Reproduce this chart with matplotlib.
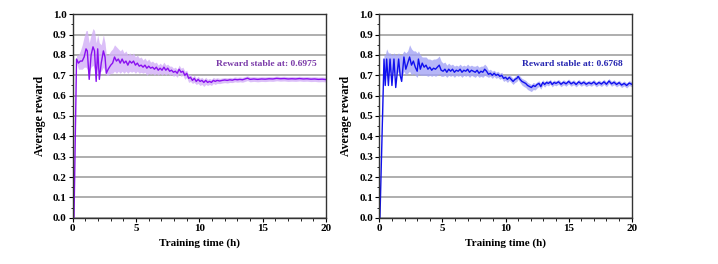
import numpy as np
import matplotlib.pyplot as plt
from matplotlib.ticker import MultipleLocator

plt.rcParams['font.family'] = ['Liberation Serif', 'DejaVu Serif']
plt.rcParams['font.weight'] = 'bold'

# ---- left run (purple) ----
t_a = [0.10, 0.30, 0.45, 0.60, 0.75, 0.90, 1.05, 1.15, 1.30, 1.45, 1.60, 1.72, 1.85, 1.97, 2.10,
       2.25, 2.42, 2.55, 2.65, 2.80, 3.00, 3.15, 3.30, 3.45, 3.60, 3.75, 3.90, 4.05, 4.20, 4.35,
       4.50, 4.65, 4.80, 4.95, 5.10, 5.25, 5.40, 5.55, 5.70, 5.85, 6.00, 6.15, 6.30, 6.45, 6.60,
       6.75, 6.90, 7.05, 7.20, 7.35, 7.50, 7.65, 7.80, 7.95, 8.10, 8.25, 8.40, 8.55, 8.70, 8.85,
       9.00, 9.15, 9.30, 9.45, 9.60, 9.75, 9.90, 10.05, 10.20, 10.35, 10.50, 10.65, 10.80, 10.95,
       11.10, 11.25, 11.40, 11.60, 11.80, 12.00, 12.20, 12.40, 12.60, 12.80, 13.00, 13.20, 13.40,
       13.60, 13.80, 14.00, 14.30, 14.60, 14.90, 15.20, 15.50, 15.80, 16.10, 16.40, 16.70, 17.00,
       17.30, 17.60, 17.90, 18.20, 18.50, 18.80, 19.10, 19.40, 19.70, 20.00]
r_a = [0.00, 0.78, 0.76, 0.77, 0.77, 0.79, 0.83, 0.82, 0.68, 0.80, 0.84, 0.82, 0.67, 0.83, 0.68,
       0.76, 0.82, 0.79, 0.71, 0.73, 0.75, 0.76, 0.79, 0.77, 0.78, 0.76, 0.78, 0.76, 0.77, 0.75,
       0.77, 0.76, 0.77, 0.75, 0.76, 0.745, 0.75, 0.74, 0.75, 0.735, 0.745, 0.735, 0.74, 0.73, 0.74,
       0.725, 0.735, 0.725, 0.74, 0.725, 0.735, 0.72, 0.725, 0.715, 0.72, 0.71, 0.73, 0.715, 0.72, 0.70,
       0.71, 0.685, 0.69, 0.675, 0.685, 0.67, 0.68, 0.67, 0.675, 0.665, 0.675, 0.665, 0.67, 0.665,
       0.675, 0.67, 0.675, 0.672, 0.675, 0.677, 0.675, 0.678, 0.676, 0.68, 0.678, 0.68, 0.678,
       0.682, 0.686, 0.68, 0.682, 0.68, 0.682, 0.681, 0.683, 0.682, 0.685, 0.683, 0.684, 0.682,
       0.683, 0.682, 0.684, 0.682, 0.683, 0.681, 0.682, 0.680, 0.681, 0.679]
hi_a = [0.00, 0.80, 0.80, 0.82, 0.85, 0.89, 0.92, 0.92, 0.86, 0.90, 0.93, 0.92, 0.86, 0.90, 0.86,
        0.85, 0.90, 0.86, 0.80, 0.80, 0.82, 0.83, 0.85, 0.84, 0.83, 0.82, 0.83, 0.81, 0.82, 0.80,
        0.81, 0.80, 0.81, 0.79, 0.80, 0.785, 0.79, 0.775, 0.785, 0.77, 0.78, 0.765, 0.77, 0.76, 0.765,
        0.75, 0.76, 0.75, 0.765, 0.75, 0.755, 0.745, 0.745, 0.735, 0.74, 0.73, 0.75, 0.735, 0.74, 0.72,
        0.725, 0.70, 0.705, 0.69, 0.70, 0.685, 0.695, 0.685, 0.69, 0.68, 0.69, 0.68, 0.685, 0.68,
        0.69, 0.685, 0.688, 0.685, 0.687, 0.689, 0.687, 0.690, 0.688, 0.692, 0.690, 0.692, 0.690,
        0.694, 0.697, 0.692, 0.693, 0.691, 0.693, 0.692, 0.694, 0.693, 0.696, 0.694, 0.695, 0.693,
        0.694, 0.693, 0.695, 0.693, 0.694, 0.692, 0.693, 0.691, 0.692, 0.690]
lo_a = [0.00, 0.76, 0.73, 0.73, 0.73, 0.74, 0.74, 0.73, 0.72, 0.74, 0.75, 0.73, 0.72, 0.74, 0.72,
        0.72, 0.74, 0.72, 0.70, 0.70, 0.71, 0.71, 0.72, 0.71, 0.72, 0.71, 0.72, 0.71, 0.72, 0.71,
        0.72, 0.715, 0.72, 0.71, 0.72, 0.71, 0.715, 0.71, 0.715, 0.70, 0.71, 0.705, 0.71, 0.70, 0.71,
        0.70, 0.71, 0.70, 0.71, 0.70, 0.71, 0.70, 0.705, 0.695, 0.70, 0.69, 0.71, 0.695, 0.70, 0.68,
        0.69, 0.665, 0.67, 0.66, 0.665, 0.655, 0.66, 0.65, 0.655, 0.645, 0.655, 0.65, 0.655, 0.65,
        0.66, 0.655, 0.66, 0.659, 0.662, 0.664, 0.662, 0.665, 0.664, 0.668, 0.666, 0.668, 0.666,
        0.670, 0.674, 0.668, 0.670, 0.668, 0.670, 0.669, 0.671, 0.670, 0.673, 0.671, 0.672, 0.670,
        0.671, 0.670, 0.672, 0.670, 0.671, 0.669, 0.670, 0.668, 0.669, 0.667]

# ---- right run (blue) ----
t_b = [0.05, 0.37, 0.47, 0.58, 0.72, 0.85, 1.00, 1.16, 1.30, 1.53, 1.65, 1.77, 1.95, 2.10, 2.25,
       2.40, 2.55, 2.70, 2.85, 3.00, 3.10, 3.25, 3.40, 3.55, 3.70, 3.85, 4.00, 4.15, 4.30, 4.45,
       4.60, 4.75, 4.90, 5.05, 5.20, 5.35, 5.50, 5.65, 5.80, 5.95, 6.10, 6.25, 6.40, 6.55, 6.70,
       6.85, 7.00, 7.15, 7.30, 7.45, 7.60, 7.75, 7.90, 8.05, 8.20, 8.35, 8.50, 8.65, 8.80, 8.95,
       9.10, 9.25, 9.40, 9.55, 9.70, 9.85, 10.00, 10.15, 10.30, 10.45, 10.60, 10.75, 10.90, 11.00,
       11.15, 11.30, 11.45, 11.60, 11.75, 11.90, 12.05, 12.20, 12.35, 12.50, 12.65, 12.80, 12.95,
       13.10, 13.25, 13.40, 13.55, 13.70, 13.85, 14.00, 14.20, 14.40, 14.60, 14.80, 15.00, 15.20,
       15.40, 15.60, 15.80, 16.00, 16.20, 16.40, 16.60, 16.80, 17.00, 17.20, 17.40, 17.60, 17.80,
       18.00, 18.20, 18.40, 18.60, 18.80, 19.00, 19.20, 19.40, 19.60, 19.80, 20.00]
r_b = [0.00, 0.78, 0.65, 0.78, 0.65, 0.78, 0.65, 0.78, 0.64, 0.78, 0.70, 0.67, 0.79, 0.73, 0.76,
       0.79, 0.75, 0.77, 0.74, 0.72, 0.78, 0.73, 0.76, 0.74, 0.75, 0.73, 0.74, 0.725, 0.735, 0.73,
       0.74, 0.75, 0.725, 0.72, 0.73, 0.715, 0.73, 0.72, 0.73, 0.715, 0.725, 0.72, 0.73, 0.715, 0.725,
       0.72, 0.73, 0.715, 0.725, 0.72, 0.715, 0.725, 0.71, 0.72, 0.715, 0.73, 0.72, 0.705, 0.71, 0.70,
       0.71, 0.70, 0.705, 0.695, 0.70, 0.685, 0.69, 0.68, 0.69, 0.68, 0.67, 0.68, 0.685, 0.695,
       0.68, 0.67, 0.665, 0.66, 0.65, 0.645, 0.64, 0.65, 0.645, 0.655, 0.66, 0.645, 0.665,
       0.655, 0.665, 0.66, 0.668, 0.655, 0.665, 0.66, 0.668, 0.656, 0.666, 0.658, 0.67, 0.658,
       0.666, 0.655, 0.668, 0.658, 0.666, 0.656, 0.664, 0.658, 0.667, 0.655, 0.665, 0.657, 0.668,
       0.656, 0.672, 0.658, 0.666, 0.655, 0.664, 0.652, 0.66, 0.65, 0.662, 0.656]
hi_b = [0.00, 0.80, 0.80, 0.83, 0.81, 0.81, 0.80, 0.81, 0.80, 0.81, 0.80, 0.80, 0.82, 0.81, 0.82,
        0.85, 0.83, 0.82, 0.82, 0.81, 0.82, 0.80, 0.79, 0.79, 0.79, 0.78, 0.78, 0.775, 0.78, 0.78,
        0.785, 0.795, 0.77, 0.76, 0.765, 0.75, 0.76, 0.75, 0.755, 0.745, 0.75, 0.745, 0.755, 0.745, 0.75,
        0.745, 0.755, 0.745, 0.75, 0.745, 0.745, 0.75, 0.74, 0.745, 0.745, 0.755, 0.745, 0.725, 0.73, 0.72,
        0.725, 0.715, 0.72, 0.71, 0.715, 0.70, 0.705, 0.695, 0.705, 0.695, 0.685, 0.695, 0.70, 0.71,
        0.695, 0.685, 0.68, 0.675, 0.665, 0.66, 0.655, 0.665, 0.66, 0.668, 0.673, 0.66, 0.678,
        0.668, 0.677, 0.672, 0.68, 0.668, 0.677, 0.672, 0.68, 0.668, 0.678, 0.670, 0.682, 0.670,
        0.678, 0.667, 0.680, 0.670, 0.678, 0.668, 0.676, 0.670, 0.679, 0.667, 0.677, 0.669, 0.680,
        0.668, 0.684, 0.670, 0.678, 0.667, 0.676, 0.664, 0.672, 0.662, 0.674, 0.668]
lo_b = [0.00, 0.74, 0.70, 0.72, 0.70, 0.72, 0.70, 0.72, 0.70, 0.72, 0.70, 0.69, 0.72, 0.70, 0.71,
        0.72, 0.70, 0.71, 0.70, 0.69, 0.71, 0.70, 0.70, 0.70, 0.70, 0.695, 0.70, 0.695, 0.70, 0.695,
        0.70, 0.705, 0.695, 0.695, 0.70, 0.69, 0.70, 0.695, 0.70, 0.69, 0.70, 0.695, 0.70, 0.69, 0.70,
        0.695, 0.70, 0.69, 0.70, 0.695, 0.69, 0.70, 0.69, 0.695, 0.69, 0.70, 0.695, 0.69, 0.695, 0.685,
        0.695, 0.685, 0.69, 0.68, 0.685, 0.67, 0.675, 0.665, 0.675, 0.665, 0.655, 0.665, 0.67, 0.68,
        0.665, 0.652, 0.645, 0.64, 0.63, 0.625, 0.62, 0.63, 0.628, 0.638, 0.645, 0.632, 0.652,
        0.642, 0.653, 0.648, 0.656, 0.643, 0.653, 0.648, 0.656, 0.644, 0.654, 0.646, 0.658, 0.646,
        0.654, 0.643, 0.656, 0.646, 0.654, 0.644, 0.652, 0.646, 0.655, 0.643, 0.653, 0.645, 0.656,
        0.644, 0.660, 0.646, 0.654, 0.643, 0.652, 0.640, 0.648, 0.638, 0.650, 0.644]

stable_a = 0.6975
stable_b = 0.6768

runs = [
    (t_a, r_a, lo_a, hi_a, '#8a10f0', '#d3b0f7', '#7a3aa8', stable_a),
    (t_b, r_b, lo_b, hi_b, '#1010ee', '#a4a4f6', '#2424b0', stable_b),
]
positions = [[0.1013, 0.1754, 0.3528, 0.7705], [0.5283, 0.1754, 0.3515, 0.7705]]

fig = plt.figure(figsize=(7.18, 2.64), dpi=100)
for (t, r, lo, hi, lc, fc, tc, stable), pos in zip(runs, positions):
    ax = fig.add_axes(pos)
    ax.fill_between(t, lo, hi, color=fc, alpha=0.8, linewidth=0)
    ax.plot(t, r, color=lc, linewidth=1.0)
    ax.set_xlim(0, 20)
    ax.set_ylim(0, 1.0)
    ax.xaxis.set_major_locator(MultipleLocator(5))
    ax.xaxis.set_minor_locator(MultipleLocator(1))
    ax.yaxis.set_minor_locator(MultipleLocator(0.05))
    ax.set_yticks(np.arange(0, 1.01, 0.1))
    ax.set_yticklabels([f'{v:.1f}' for v in np.arange(0, 1.01, 0.1)])
    ax.yaxis.grid(True, color='#a8a8a8', linewidth=1.3)
    ax.set_axisbelow(True)
    ax.tick_params(which='major', direction='out', length=3, width=0.8, labelsize=8, pad=1.5)
    ax.tick_params(which='minor', direction='out', length=1.8, width=0.6)
    for s in ax.spines.values():
        s.set_color('#333333')
        s.set_linewidth(1.0)
    ax.set_xlabel('Training time (h)', fontsize=8, fontweight='bold', labelpad=4)
    ax.set_ylabel('Average reward', fontsize=8.5, fontweight='bold', labelpad=5)
    ax.text(15.3, 0.756, f'Reward stable at: {stable}', color=tc, fontsize=6.8,
            fontweight='bold', ha='center', va='center')

fig.savefig('out.png', dpi=100)
